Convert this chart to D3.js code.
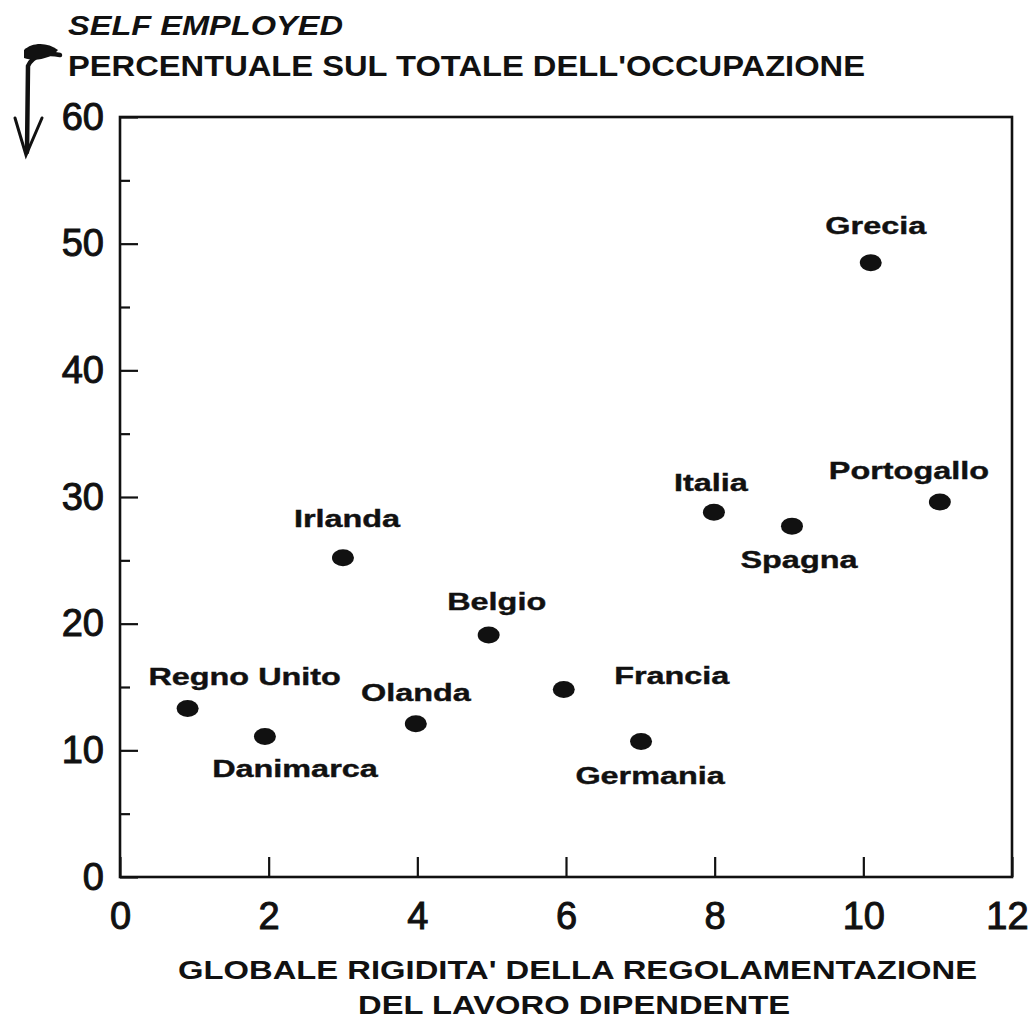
<!DOCTYPE html>
<html>
<head>
<meta charset="utf-8">
<script src="https://cdn.jsdelivr.net/npm/d3@7"></script>
<style>
  html, body { margin: 0; padding: 0; background: #fff; }
  svg { display: block; }
  text { font-family: "Liberation Sans", Arial, Helvetica, sans-serif; fill: #111; }
</style>
</head>
<body>
<svg id="chart" width="1031" height="1023"></svg>
<script>
// ---- data ----
const countries = ["Regno Unito", "Danimarca", "Irlanda", "Olanda", "Belgio", "Francia",
                   "Germania", "Italia", "Spagna", "Grecia", "Portogallo"];
const rigidity  = [0.91, 1.95, 3.0, 3.98, 4.96, 5.97, 7.01, 7.99, 9.04, 10.1, 11.03];
const selfEmployedPct = [13.3, 11.1, 25.2, 12.1, 19.1, 14.8, 10.7, 28.8, 27.7, 48.5, 29.6];
const xTicks = [0, 2, 4, 6, 8, 10, 12];
const yTicks = [0, 10, 20, 30, 40, 50, 60];
const yMinorTicks = [5, 15, 25, 35, 45, 55];
const titleTop = "SELF EMPLOYED";
const titleMain = "PERCENTUALE SUL TOTALE DELL'OCCUPAZIONE";
const xTitleLines = ["GLOBALE RIGIDITA' DELLA REGOLAMENTAZIONE", "DEL LAVORO DIPENDENTE"];

// label placement relative to each point (layout, not data)
const labelDx = [57, 30, 4, 0, 8, 108, 9, -3, 7, 5, -31];
const labelDy = [-24, 41, -31, -23, -25, -6, 43, -21, 42, -29, -23];

(function () {
// ---- layout ----
const svg = d3.select("#chart");
const pLeft = 120, pRight = 1012, pTop = 117, pBottom = 877;

const x = d3.scaleLinear().domain([0, 12]).range([pLeft, pRight]);
const y = d3.scaleLinear().domain([0, 60]).range([pBottom, pTop]);

// frame
svg.append("rect")
  .attr("x", pLeft).attr("y", pTop)
  .attr("width", pRight - pLeft).attr("height", pBottom - pTop)
  .attr("fill", "none").attr("stroke", "#111").attr("stroke-width", 2.6);

// y axis (major, with labels)
const yAxis = svg.append("g")
  .attr("transform", `translate(${pLeft},0)`)
  .call(d3.axisLeft(y).tickValues(yTicks).tickSizeInner(-18).tickSizeOuter(0).tickPadding(16));
yAxis.select(".domain").remove();
yAxis.selectAll(".tick line").attr("stroke", "#111").attr("stroke-width", 2.2);
yAxis.selectAll(".tick text")
  .style("font-family", '"Liberation Sans", Arial, sans-serif')
  .style("font-size", "38px")
  .attr("fill", "#111").attr("stroke", "#111").attr("stroke-width", 1);

// y minor ticks
const yMinor = svg.append("g")
  .attr("transform", `translate(${pLeft},0)`)
  .call(d3.axisLeft(y).tickValues(yMinorTicks).tickSizeInner(-10).tickSizeOuter(0).tickFormat(""));
yMinor.select(".domain").remove();
yMinor.selectAll(".tick line").attr("stroke", "#111").attr("stroke-width", 2.2);

// x axis
const xAxis = svg.append("g")
  .attr("transform", `translate(0,${pBottom})`)
  .call(d3.axisBottom(x).tickValues(xTicks).tickSizeInner(-20).tickSizeOuter(0).tickPadding(25));
xAxis.select(".domain").remove();
xAxis.selectAll(".tick line").attr("stroke", "#111").attr("stroke-width", 2.2);
xAxis.selectAll(".tick text")
  .style("font-family", '"Liberation Sans", Arial, sans-serif')
  .style("font-size", "38px")
  .attr("fill", "#111").attr("stroke", "#111").attr("stroke-width", 1)
  .attr("dx", d => d === 12 ? -5 : 0);

// points
const pts = countries.map((c, i) => ({ name: c, xv: rigidity[i], yv: selfEmployedPct[i], dx: labelDx[i], dy: labelDy[i] }));

svg.append("g").selectAll("ellipse")
  .data(pts).join("ellipse")
  .attr("cx", d => x(d.xv)).attr("cy", d => y(d.yv))
  .attr("rx", 11).attr("ry", 8.5)
  .attr("fill", "#111");

svg.append("g").selectAll("text")
  .data(pts).join("text")
  .attr("transform", d => `translate(${x(d.xv) + d.dx},${y(d.yv) + d.dy}) scale(1.35,1)`)
  .attr("text-anchor", "middle")
  .attr("stroke", "#111").attr("stroke-width", 0.4)
  .style("font-size", "24px").style("font-weight", "bold")
  .text(d => d.name);

// titles
svg.append("text")
  .attr("x", 68).attr("y", 35)
  .attr("textLength", 275).attr("lengthAdjust", "spacingAndGlyphs")
  .style("font-size", "28px").style("font-weight", "bold").style("font-style", "italic")
  .text(titleTop);

svg.append("text")
  .attr("x", 68).attr("y", 76)
  .attr("textLength", 797).attr("lengthAdjust", "spacingAndGlyphs")
  .style("font-size", "30px").style("font-weight", "bold")
  .text(titleMain);

svg.append("text")
  .attr("x", 178).attr("y", 979)
  .attr("textLength", 799).attr("lengthAdjust", "spacingAndGlyphs")
  .style("font-size", "26px").style("font-weight", "bold")
  .text(xTitleLines[0]);

svg.append("text")
  .attr("x", 358).attr("y", 1014)
  .attr("textLength", 432).attr("lengthAdjust", "spacingAndGlyphs")
  .style("font-size", "26px").style("font-weight", "bold")
  .text(xTitleLines[1]);

// hand-drawn arrow annotation
const deco = svg.append("g").attr("fill", "none").attr("stroke", "#111").attr("stroke-linecap", "round");
deco.append("path").attr("d", "M60,55 C45,52 32,56 28,66 L27,152").attr("stroke-width", 4.5);
deco.append("path").attr("d", "M15,118 L26,155 L42,118").attr("stroke-width", 3);
svg.append("path").attr("d", "M24,50 C32,42 48,42 58,50 C52,58 36,62 24,58 Z").attr("fill", "#111");
})();
</script>
</body>
</html>
